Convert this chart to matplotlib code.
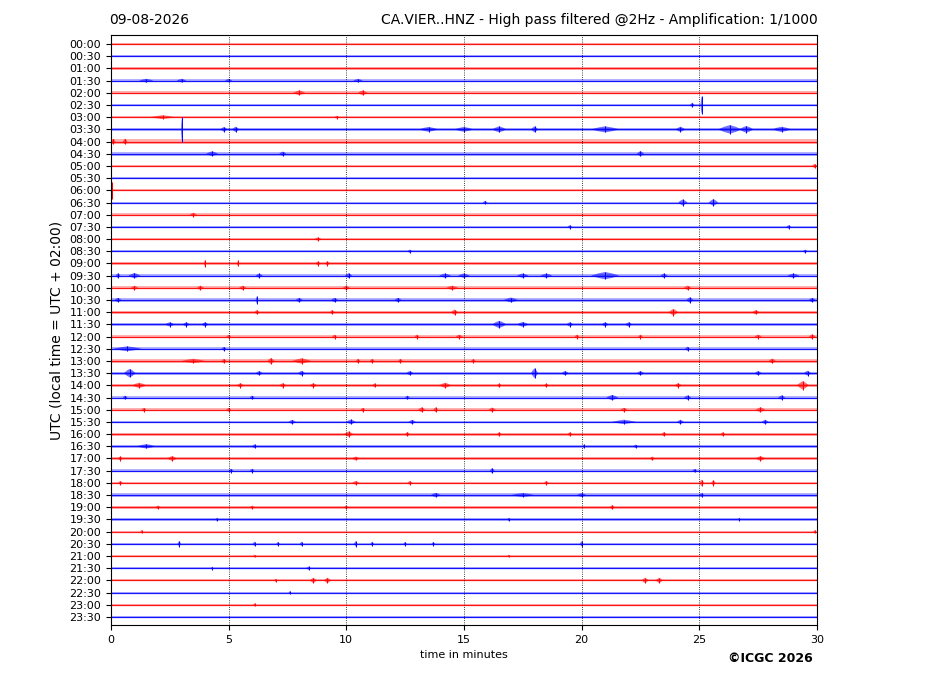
import matplotlib
matplotlib.use('Agg')
import matplotlib.pyplot as plt
import numpy as np

# 48 half-hour traces, 00:00 .. 23:30
row_labels = ['%02d:%02d' % (h, m) for h in range(24) for m in (0, 30)]

# background noise half-amplitude of each trace (in trace spacing units)
noise = [0.05, 0.07, 0.11, 0.15, 0.13, 0.07, 0.09, 0.15, 0.17, 0.17,
         0.11, 0.09, 0.07, 0.07, 0.11, 0.09, 0.09, 0.07, 0.09, 0.15,
         0.13, 0.15, 0.13, 0.13, 0.11, 0.13, 0.13, 0.13, 0.13, 0.11,
         0.11, 0.11, 0.13, 0.11, 0.13, 0.11, 0.11, 0.13, 0.11, 0.09,
         0.07, 0.09, 0.09, 0.09, 0.09, 0.07, 0.07, 0.06]

# events: trace, minute, half-amplitude, duration (min)
ev_row = [3, 3, 3, 3, 4, 4, 5, 5, 6, 6,
          7, 7, 7, 7, 7, 7, 7, 7, 7, 7, 7, 7,
          8, 8, 9, 9, 9, 10, 12, 13, 13, 13, 14, 15, 15, 16, 17, 17,
          18, 18, 18, 18,
          19, 19, 19, 19, 19, 19, 19, 19, 19, 19, 19,
          20, 20, 20, 20, 20, 20,
          21, 21, 21, 21, 21, 21, 21, 21,
          22, 22, 22, 22, 22,
          23, 23, 23, 23, 23, 23, 23, 23,
          24, 24, 24, 24, 24, 24, 24, 24,
          25, 25, 25,
          26, 26, 26, 26, 26, 26, 26, 26, 26,
          27, 27, 27, 27, 27, 27, 27, 27, 27,
          28, 28, 28, 28, 28, 28, 28, 28, 28, 28,
          29, 29, 29, 29, 29, 29,
          30, 30, 30, 30, 30, 30, 30, 30,
          31, 31, 31, 31, 31, 31,
          32, 32, 32, 32, 32, 32,
          33, 33, 33, 33,
          34, 34, 34, 34, 34,
          35, 35, 35, 35,
          36, 36, 36, 36, 36, 36,
          37, 37, 37, 37,
          38, 38, 38, 38,
          39, 39, 39, 39,
          40, 40,
          41, 41, 41, 41, 41, 41, 41, 41, 41,
          42, 42, 43, 43,
          44, 44, 44, 44, 44,
          45, 46]
ev_min = [1.5, 3.0, 5.0, 10.5, 8.0, 10.7, 24.7, 25.1, 2.2, 9.6,
          3.0, 4.8, 5.3, 13.5, 15.0, 16.5, 18.0, 21.0, 24.2, 26.3, 27.0, 28.5,
          0.1, 0.6, 4.3, 7.3, 22.5, 29.9, 0.05, 15.9, 24.3, 25.6, 3.5, 19.5, 28.8, 8.8, 12.7, 29.5,
          4.0, 5.4, 8.8, 9.2,
          0.3, 1.0, 6.3, 10.1, 14.2, 15.0, 17.5, 18.5, 21.0, 23.5, 29.0,
          1.0, 3.8, 5.6, 10.0, 14.5, 24.5,
          0.3, 6.2, 8.0, 9.5, 12.2, 17.0, 24.6, 29.8,
          6.2, 9.4, 14.6, 23.9, 27.4,
          2.5, 3.2, 4.0, 16.5, 17.5, 19.5, 21.0, 22.0,
          5.0, 9.5, 13.0, 14.8, 19.8, 22.5, 27.5, 29.8,
          0.7, 4.8, 24.5,
          3.5, 4.8, 6.8, 8.1, 10.5, 11.1, 12.3, 15.4, 28.1,
          0.8, 6.3, 8.1, 12.7, 18.0, 19.3, 22.5, 27.5, 29.6,
          1.2, 5.5, 7.3, 8.6, 11.2, 14.2, 16.5, 18.5, 24.1, 29.4,
          0.6, 6.0, 12.6, 21.3, 24.5, 28.5,
          1.4, 5.0, 10.7, 13.2, 13.8, 16.2, 21.8, 27.6,
          7.7, 10.2, 12.8, 21.8, 24.2, 27.8,
          10.1, 12.6, 16.5, 19.5, 23.5, 26.0,
          1.5, 6.1, 20.1, 22.3,
          0.4, 2.6, 10.4, 23.0, 27.6,
          5.1, 6.0, 16.2, 24.8,
          0.4, 10.4, 12.7, 18.5, 25.1, 25.6,
          13.8, 17.5, 20.0, 25.1,
          2.0, 6.0, 10.0, 21.3,
          0.0, 4.5, 16.9, 26.7,
          1.3, 29.9,
          2.9, 6.1, 7.1, 8.1, 10.4, 11.1, 12.5, 13.7, 20.0,
          6.1, 16.9, 4.3, 8.4,
          7.0, 8.6, 9.2, 22.7, 23.3,
          7.6, 6.1]
ev_amp = [0.15, 0.15, 0.15, 0.14, 0.2, 0.2, 0.18, 0.75, 0.16, 0.12,
          1.0, 0.2, 0.22, 0.2, 0.2, 0.25, 0.25, 0.25, 0.22, 0.35, 0.28, 0.22,
          0.24, 0.24, 0.2, 0.18, 0.22, 0.18, 0.7, 0.14, 0.25, 0.28, 0.16, 0.14, 0.14, 0.14, 0.14, 0.14,
          0.3, 0.25, 0.18, 0.18,
          0.2, 0.22, 0.18, 0.2, 0.18, 0.18, 0.18, 0.18, 0.3, 0.18, 0.18,
          0.18, 0.18, 0.18, 0.18, 0.18, 0.18,
          0.18, 0.3, 0.18, 0.18, 0.18, 0.2, 0.22, 0.18,
          0.18, 0.18, 0.22, 0.27, 0.18,
          0.18, 0.18, 0.18, 0.3, 0.2, 0.18, 0.18, 0.18,
          0.16, 0.16, 0.16, 0.16, 0.16, 0.16, 0.16, 0.18,
          0.2, 0.16, 0.18,
          0.18, 0.18, 0.25, 0.22, 0.18, 0.18, 0.18, 0.16, 0.2,
          0.35, 0.18, 0.2, 0.18, 0.4, 0.18, 0.18, 0.18, 0.2,
          0.22, 0.18, 0.18, 0.18, 0.16, 0.22, 0.16, 0.16, 0.18, 0.35,
          0.16, 0.16, 0.16, 0.22, 0.18, 0.18,
          0.16, 0.16, 0.16, 0.2, 0.2, 0.18, 0.16, 0.2,
          0.18, 0.2, 0.18, 0.18, 0.18, 0.18,
          0.22, 0.18, 0.16, 0.16, 0.18, 0.16,
          0.18, 0.16, 0.16, 0.14,
          0.18, 0.2, 0.16, 0.16, 0.2,
          0.16, 0.16, 0.22, 0.14,
          0.16, 0.16, 0.16, 0.16, 0.27, 0.22,
          0.18, 0.16, 0.16, 0.16,
          0.14, 0.14, 0.14, 0.18,
          0.14, 0.14, 0.14, 0.14,
          0.14, 0.14,
          0.22, 0.18, 0.16, 0.18, 0.22, 0.18, 0.16, 0.16, 0.22,
          0.12, 0.12, 0.12, 0.14,
          0.14, 0.22, 0.22, 0.22, 0.22,
          0.12, 0.14]
ev_dur = [0.6, 0.4, 0.3, 0.4, 0.5, 0.4, 0.2, 0.1, 1.0, 0.2,
          0.05, 0.3, 0.3, 0.8, 0.8, 0.6, 0.3, 1.2, 0.4, 1.0, 0.6, 0.8,
          0.2, 0.2, 0.5, 0.3, 0.3, 0.2, 0.06, 0.2, 0.4, 0.4, 0.3, 0.2, 0.2, 0.3, 0.2, 0.2,
          0.1, 0.1, 0.2, 0.2,
          0.2, 0.5, 0.3, 0.3, 0.5, 0.5, 0.5, 0.5, 1.2, 0.3, 0.5,
          0.3, 0.3, 0.3, 0.3, 0.5, 0.3,
          0.3, 0.1, 0.3, 0.3, 0.3, 0.6, 0.3, 0.3,
          0.2, 0.2, 0.3, 0.4, 0.3,
          0.4, 0.3, 0.3, 0.6, 0.5, 0.3, 0.3, 0.3,
          0.2, 0.2, 0.2, 0.3, 0.2, 0.2, 0.3, 0.3,
          1.2, 0.2, 0.2,
          1.0, 0.2, 0.3, 0.8, 0.2, 0.2, 0.2, 0.2, 0.3,
          0.5, 0.3, 0.3, 0.3, 0.3, 0.3, 0.3, 0.3, 0.3,
          0.6, 0.3, 0.3, 0.3, 0.2, 0.5, 0.2, 0.2, 0.3, 0.5,
          0.2, 0.2, 0.2, 0.5, 0.3, 0.3,
          0.2, 0.2, 0.2, 0.3, 0.2, 0.3, 0.3, 0.4,
          0.3, 0.4, 0.3, 1.0, 0.3, 0.3,
          0.4, 0.2, 0.2, 0.2, 0.2, 0.2,
          0.8, 0.2, 0.1, 0.2,
          0.2, 0.4, 0.3, 0.2, 0.4,
          0.2, 0.2, 0.2, 0.2,
          0.2, 0.3, 0.2, 0.2, 0.2, 0.2,
          0.4, 1.0, 0.4, 0.2,
          0.2, 0.2, 0.2, 0.2,
          0.1, 0.1, 0.1, 0.1,
          0.1, 0.1,
          0.15, 0.15, 0.15, 0.15, 0.15, 0.15, 0.15, 0.15, 0.15,
          0.1, 0.1, 0.1, 0.2,
          0.1, 0.3, 0.3, 0.3, 0.3,
          0.1, 0.1]

colors = ['#ff0000', '#0000ff']

fig = plt.figure(figsize=(9.27, 6.96), dpi=100)
ax = fig.add_axes([0.1197, 0.102, 0.7616, 0.8477])

x = np.array([0.0, 30.0])
for i, lev in enumerate(noise):
    c = colors[i % 2]
    ax.fill_between(x, i - lev, i + lev, color=c, alpha=0.3, lw=0)
    ax.plot(x, [i, i], color=c, lw=0.9, alpha=0.9)

for r, t, a, d in zip(ev_row, ev_min, ev_amp, ev_dur):
    c = colors[r % 2]
    # spindle shaped burst around the event time
    ax.fill([t - d / 2, t - d / 4, t, t + d / 4, t + d / 2, t + d / 4, t, t - d / 4],
            [r, r - a * 0.6, r - a, r - a * 0.6, r, r + a * 0.6, r + a, r + a * 0.6],
            color=c, lw=0, alpha=0.55)
    ax.vlines(t, r - a, r + a, color=c, lw=0.7)

for m in (5, 10, 15, 20, 25):
    ax.axvline(m, color='k', ls=':', lw=0.6)

ax.set_xlim(0, 30)
ax.set_ylim(47.66, -0.74)
ax.set_yticks(range(48))
ax.set_yticklabels(row_labels, fontsize=8)
ax.set_xticks([0, 5, 10, 15, 20, 25, 30])
ax.tick_params(axis='x', labelsize=8)
ax.set_xlabel('time in minutes', fontsize=8)
ax.set_ylabel('UTC (local time = UTC + 02:00)', fontsize=10)

fig.text(109 / 927, 1 - 20 / 696, '09-08-2026', fontsize=10, va='center', ha='left')
fig.text(818 / 927, 1 - 20 / 696,
         'CA.VIER..HNZ - High pass filtered @2Hz - Amplification: 1/1000',
         fontsize=10, va='center', ha='right')
fig.text(770 / 927, 1 - 658 / 696, '\u00a9ICGC 2026', fontsize=9,
         weight='bold', va='center', ha='center')

fig.savefig('out.png', dpi=100)
